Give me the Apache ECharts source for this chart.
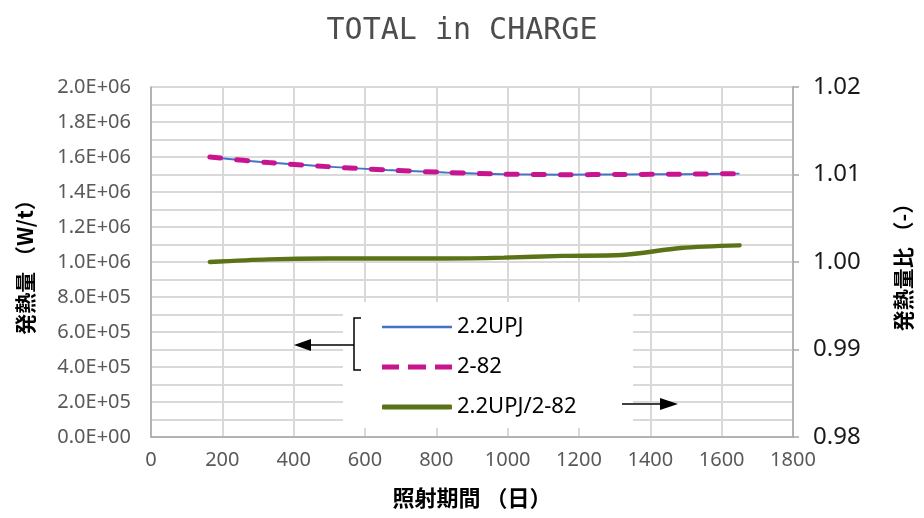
<!DOCTYPE html>
<html>
<head>
<meta charset="utf-8">
<script src="https://cdn.jsdelivr.net/npm/echarts@6/dist/echarts.min.js"></script>
<style>html,body{margin:0;padding:0;background:#fff}#c{width:924px;height:518px}</style>
</head>
<body>
<div id="c"></div>
<script>
const days = [165, 330, 495, 660, 825, 990, 1155, 1320, 1485, 1650];
const heat22UPJ = [1.600e6, 1.568e6, 1.545e6, 1.526e6, 1.512e6, 1.502e6, 1.499e6, 1.500e6, 1.502e6, 1.505e6];
const heat282 = [1.600e6, 1.568e6, 1.545e6, 1.526e6, 1.512e6, 1.502e6, 1.499e6, 1.500e6, 1.502e6, 1.505e6];
const ratio = [1.0000, 1.0003, 1.0004, 1.0004, 1.0004, 1.0005, 1.0007, 1.0008, 1.0016, 1.0019];
const seriesNames = ['2.2UPJ', '2-82', '2.2UPJ/2-82'];
const xTicks = [0, 1800, 200];
const yLeft = [0, 2e6, 2e5];
const yRight = [0.98, 1.02, 0.01];

const NUMF = "'Noto Sans', sans-serif";
const JPF = "'Noto Sans CJK JP', sans-serif";

function sci(v) {
  if (v === 0) return '0.0E+00';
  const e = Math.floor(Math.log10(v) + 1e-9);
  const m = v / Math.pow(10, e);
  return m.toFixed(1) + 'E+' + String(e).padStart(2, '0');
}
const pairs = arr => days.map((d, i) => [d, arr[i]]);

const legendBase = {left: 377, itemWidth: 70, z: 10, itemGap: 0,
  textStyle: {fontFamily: NUMF, fontSize: 22, color: '#000'}};

const chart = echarts.init(document.getElementById('c'), null, {renderer: 'canvas'});
chart.setOption({
  backgroundColor: '#fff',
  animation: false,
  title: {
    text: 'TOTAL in CHARGE', left: 'center', top: 11,
    textStyle: {fontFamily: "'DejaVu Sans Mono', monospace", fontSize: 30, fontWeight: 'normal', color: '#4d4d4d'}
  },
  grid: {left: 151, right: 131, top: 87, bottom: 81},
  xAxis: {
    type: 'value', min: xTicks[0], max: xTicks[1], interval: xTicks[2],
    name: '照射期間 （日）', nameLocation: 'middle', nameGap: 50,
    nameTextStyle: {fontFamily: JPF, fontSize: 22, fontWeight: 'bold', color: '#000'},
    axisLine: {lineStyle: {color: '#a6a6a6', width: 1.5}},
    axisTick: {show: false},
    axisLabel: {fontFamily: NUMF, fontSize: 20, color: '#595959', margin: 13, formatter: v => String(v)},
    splitLine: {show: true, lineStyle: {color: '#d9d9d9', width: 2}}
  },
  yAxis: [{
    type: 'value', min: yLeft[0], max: yLeft[1], interval: yLeft[2],
    name: '発熱量 （W/t）', nameLocation: 'middle', nameGap: 115, nameRotate: 90,
    nameTextStyle: {fontFamily: JPF, fontSize: 21, fontWeight: 'bold', color: '#000'},
    axisLine: {show: true, lineStyle: {color: '#a6a6a6', width: 1.5}},
    axisTick: {show: false},
    axisLabel: {fontFamily: NUMF, fontSize: 20, color: '#595959', margin: 20, formatter: sci},
    splitLine: {show: true, lineStyle: {color: '#d9d9d9', width: 2}},
    minorTick: {show: false, splitNumber: 2},
    minorSplitLine: {show: true, lineStyle: {color: '#d9d9d9', width: 2}}
  }, {
    type: 'value', position: 'right', min: yRight[0], max: yRight[1], interval: yRight[2],
    name: '発熱量比 （-）', nameLocation: 'middle', nameGap: 100, nameRotate: 90,
    nameTextStyle: {fontFamily: JPF, fontSize: 21, fontWeight: 'bold', color: '#000'},
    axisLine: {show: true, lineStyle: {color: '#a6a6a6', width: 1.5}},
    axisTick: {show: true, length: 6, inside: false, lineStyle: {color: '#a6a6a6', width: 1.5}},
    axisLabel: {fontFamily: NUMF, fontSize: 24, color: '#1a1a1a', margin: 20, formatter: v => v.toFixed(2)},
    splitLine: {show: false}
  }],
  legend: [
    Object.assign({}, legendBase, {data: [seriesNames[0]], top: 311, itemHeight: 2.5, icon: 'rect'}),
    Object.assign({}, legendBase, {data: [seriesNames[1]], top: 351, itemHeight: 5,
      icon: 'path://M0,0h17v5h-17zM26,0h18v5h-18zM53,0h17v5h-17z'}),
    Object.assign({}, legendBase, {data: [seriesNames[2]], top: 391, itemHeight: 5, icon: 'roundRect'})
  ],
  graphic: {elements: [
    {type: 'rect', z: 5, shape: {x: 343, y: 302, width: 290, height: 126}, style: {fill: '#fff'}},
    {type: 'polyline', z: 6, shape: {points: [[361, 318], [354, 318], [354, 370], [361, 370]]}, style: {stroke: '#000', lineWidth: 1.5, fill: null}},
    {type: 'polyline', z: 6, shape: {points: [[354, 345], [305, 345]]}, style: {stroke: '#000', lineWidth: 1.5, fill: null}},
    {type: 'polygon', z: 6, shape: {points: [[294, 345], [311, 339], [311, 351]]}, style: {fill: '#000'}},
    {type: 'polyline', z: 6, shape: {points: [[622, 404], [664, 404]]}, style: {stroke: '#000', lineWidth: 1.5, fill: null}},
    {type: 'polygon', z: 6, shape: {points: [[678, 404], [660, 398], [660, 410]]}, style: {fill: '#000'}}
  ]},
  series: [
    {name: seriesNames[0], type: 'line', yAxisIndex: 0, data: pairs(heat22UPJ), smooth: 0.3,
     symbol: 'none', color: '#4472C4', lineStyle: {color: '#4472C4', width: 2}, z: 3},
    {name: seriesNames[1], type: 'line', yAxisIndex: 0, data: pairs(heat282), smooth: 0.3,
     symbol: 'none', color: '#C8148F', lineStyle: {color: '#C8148F', width: 5, type: [11, 16], cap: 'round'}, z: 4},
    {name: seriesNames[2], type: 'line', yAxisIndex: 1, data: pairs(ratio), smooth: 0.3,
     symbol: 'none', color: '#5B7317', lineStyle: {color: '#5B7317', width: 4.5, cap: 'round'}, z: 3}
  ]
});
</script>
</body>
</html>
